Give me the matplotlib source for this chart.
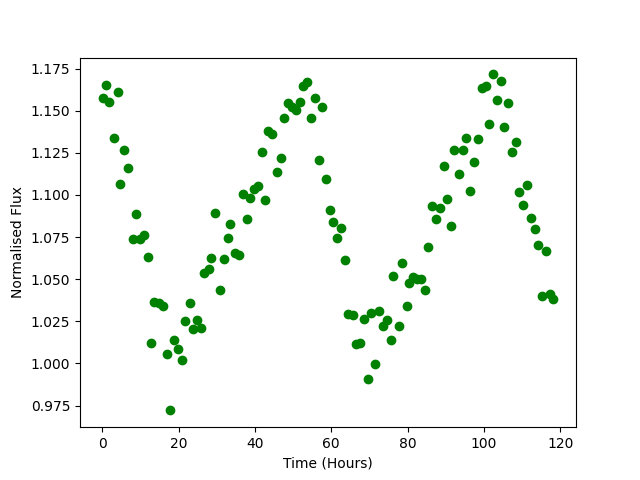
import matplotlib
matplotlib.use("Agg")
import matplotlib.pyplot as plt

# time (hours) and normalised flux
time = [0.08, 0.97, 1.84, 2.97, 4.02, 4.73, 5.78, 6.83, 7.96, 8.93,
        9.90, 11.03, 11.90, 12.79, 13.66, 14.97, 16.02, 16.89, 17.86, 18.91,
        19.77, 20.82, 21.80, 22.93, 23.71, 24.76, 25.92, 26.79, 27.91, 28.55,
        29.67, 30.80, 31.85, 32.90, 33.61, 34.85, 35.79, 36.84, 37.89, 38.79,
        39.73, 40.78, 41.83, 42.62, 43.41, 44.46, 45.88, 46.74, 47.61, 48.66,
        49.71, 50.68, 51.73, 52.60, 53.65, 54.70, 55.67, 56.72, 57.59, 58.64,
        59.69, 60.48, 61.63, 62.50, 63.55, 64.42, 65.73, 66.62, 67.49, 68.62,
        69.67, 70.56, 71.43, 72.48, 73.61, 74.66, 75.63, 76.23, 77.73, 78.60,
        79.75, 80.36, 81.49, 82.46, 83.51, 84.56, 85.43, 86.48, 87.53, 88.58,
        89.63, 90.42, 91.39, 92.25, 93.57, 94.62, 95.40, 96.38, 97.50, 98.56,
        99.45, 100.50, 101.45, 102.50, 103.55, 104.44, 105.38, 106.43, 107.33, 108.46,
        109.32, 110.37, 111.42, 112.39, 113.45, 114.31, 115.36, 116.33, 117.38, 118.25]
flux = [1.1572, 1.1651, 1.1552, 1.1335, 1.1608, 1.1067, 1.1269, 1.1157, 1.0741, 1.0889,
        1.0741, 1.0760, 1.0631, 1.0123, 1.0362, 1.0361, 1.0340, 1.0058, 0.9721, 1.0141,
        1.0087, 1.0022, 1.0249, 1.0361, 1.0206, 1.0255, 1.0212, 1.0539, 1.0558, 1.0628,
        1.0895, 1.0438, 1.0622, 1.0747, 1.0826, 1.0658, 1.0646, 1.1008, 1.0854, 1.0984,
        1.1034, 1.1051, 1.1252, 1.0968, 1.1378, 1.1364, 1.1133, 1.1216, 1.1454, 1.1546,
        1.1519, 1.1503, 1.1549, 1.1645, 1.1667, 1.1454, 1.1572, 1.1206, 1.1519, 1.1097,
        1.0909, 1.0839, 1.0747, 1.0806, 1.0616, 1.0295, 1.0285, 1.0113, 1.0123, 1.0266,
        0.9909, 1.0301, 0.9998, 1.0309, 1.0222, 1.0255, 1.0137, 1.0517, 1.0222, 1.0598,
        1.0340, 1.0477, 1.0513, 1.0499, 1.0503, 1.0438, 1.0691, 1.0933, 1.0854, 1.0925,
        1.1172, 1.0978, 1.0818, 1.1265, 1.1121, 1.1265, 1.1335, 1.1026, 1.1198, 1.1329,
        1.1632, 1.1645, 1.1418, 1.1715, 1.1566, 1.1673, 1.1400, 1.1543, 1.1252, 1.1311,
        1.1020, 1.0937, 1.1061, 1.0865, 1.0800, 1.0701, 1.0398, 1.0665, 1.0414, 1.0384]

plt.figure(figsize=(6.4, 4.8), dpi=100)
plt.plot(time, flux, 'o', color='green')
plt.xlabel('Time (Hours)')
plt.ylabel('Normalised Flux')
plt.savefig('out.png')
